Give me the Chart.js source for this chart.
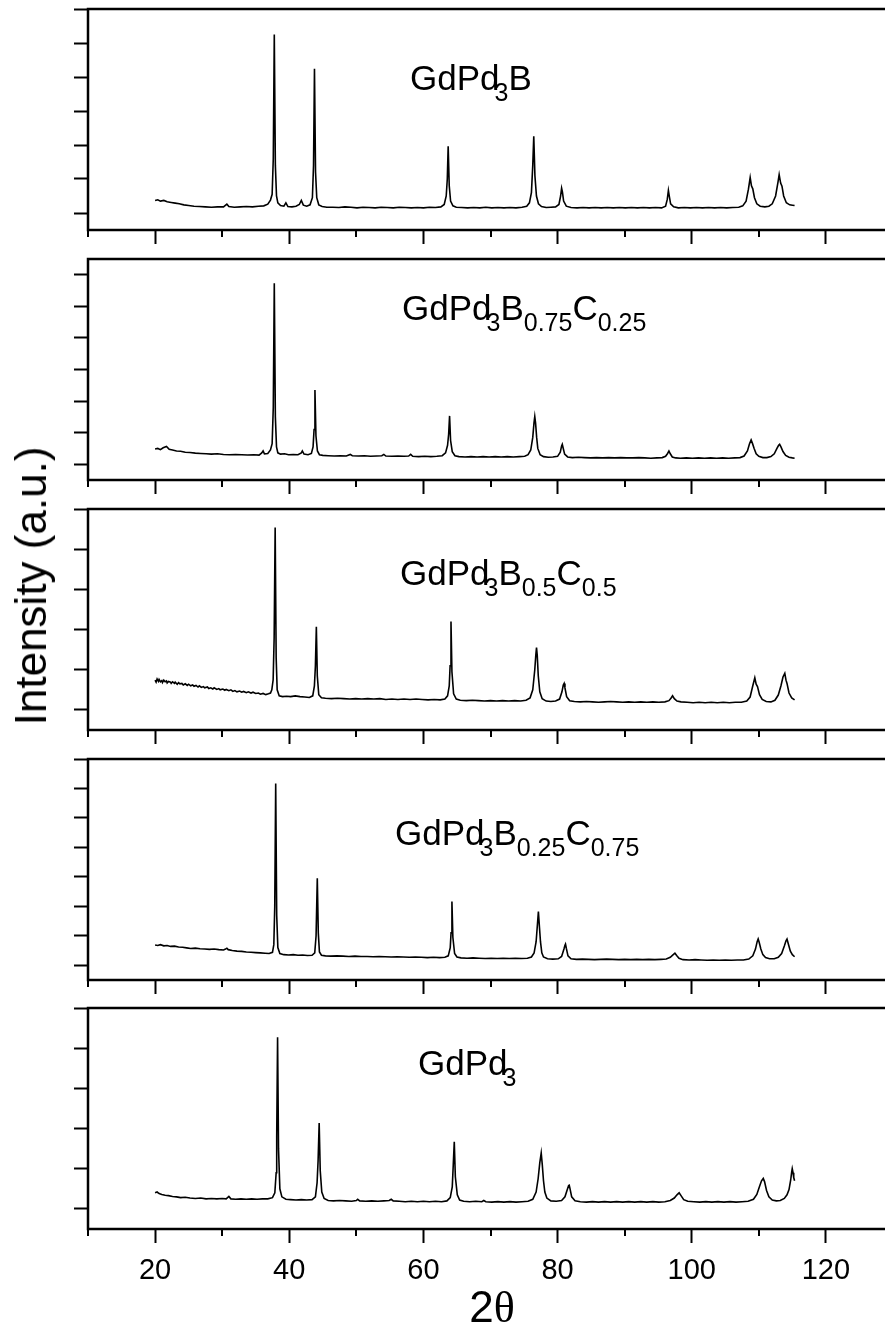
<!DOCTYPE html>
<html lang="en">
  <head>
    <meta charset="UTF-8" />
    <title>XRD patterns - GdPd3 borocarbides</title>
    <script src="https://cdn.jsdelivr.net/npm/chart.js"></script>
    <style>
      html,
      body {
        margin: 0;
        padding: 0;
        width: 885px;
        height: 1325px;
        overflow: hidden;
        background: #fff;
        font-family: "Liberation Sans", Arial, sans-serif;
      }
      canvas {
        position: absolute;
        left: 0;
      }
      .label {
        position: absolute;
        font-size: 35px;
        line-height: 1;
        white-space: nowrap;
        color: #000;
      }
      .label .sub {
        position: relative;
        top: 11px;
        font-size: 25px;
      }
      .label .sub3 {
        margin-left: -5px;
      }
      #ytitle {
        position: absolute;
        left: 31px;
        top: 586px;
        font-size: 44px;
        line-height: 1;
        white-space: nowrap;
        transform: translate(-50%, -50%) rotate(-90deg);
      }
      #xtitle {
        position: absolute;
        left: 492px;
        top: 1285px;
        font-size: 44px;
        line-height: 1;
        white-space: nowrap;
        transform: translateX(-50%);
      }
      #xtitle .theta {
        font-family: "Liberation Serif", "Times New Roman", serif;
      }
    </style>
  </head>
  <body>
    <canvas id="panel1" width="900" height="251" style="top: -1px"></canvas>
    <canvas id="panel2" width="900" height="251" style="top: 249px"></canvas>
    <canvas id="panel3" width="900" height="251" style="top: 499px"></canvas>
    <canvas id="panel4" width="900" height="251" style="top: 749px"></canvas>
    <canvas id="panel5" width="900" height="326" style="top: 998px"></canvas>

    <div class="label" style="left: 410px; top: 60px">
      GdPd<span class="sub sub3">3</span>B
    </div>
    <div class="label" style="left: 402px; top: 290px">
      GdPd<span class="sub sub3">3</span>B<span class="sub">0.75</span>C<span class="sub">0.25</span>
    </div>
    <div class="label" style="left: 400px; top: 555px">
      GdPd<span class="sub sub3">3</span>B<span class="sub">0.5</span>C<span class="sub">0.5</span>
    </div>
    <div class="label" style="left: 395px; top: 815px">
      GdPd<span class="sub sub3">3</span>B<span class="sub">0.25</span>C<span class="sub">0.75</span>
    </div>
    <div class="label" style="left: 418px; top: 1045px">
      GdPd<span class="sub sub3">3</span>
    </div>

    <div id="ytitle">Intensity (a.u.)</div>
    <div id="xtitle">2<span class="theta">θ</span></div>

    <script>
      // 2-theta axis
      var xMajorTicks = [20, 40, 60, 80, 100, 120];
      var xMinorTicks = [10, 30, 50, 70, 90, 110, 130];

      // intensity axis ranges (arbitrary units, one tick per unit)
      var yMaxes = [6, 6.5, 5, 7, 5];

      // [2theta, intensity] for each sample
      var gdpd3b = [
        [20.0,0.37],[20.4,0.39],[20.8,0.35],[21.3,0.37],[21.8,0.33],[22.4,0.31],[23.0,0.29],[23.6,0.27],[24.3,0.24],[25.0,0.22],
        [25.8,0.2],[26.6,0.19],[27.5,0.18],[28.4,0.17],[29.3,0.18],[30.2,0.18],[30.7,0.26],[31.0,0.19],[31.8,0.17],[32.7,0.18],
        [33.6,0.19],[34.5,0.18],[35.4,0.2],[36.2,0.21],[36.8,0.26],[37.2,0.38],[37.45,0.55],[37.62,1.6],[37.77,5.25],[37.93,1.4],
        [38.1,0.5],[38.3,0.3],[38.7,0.22],[39.2,0.2],[39.5,0.3],[39.8,0.19],[40.4,0.18],[41.0,0.2],[41.5,0.25],[41.8,0.37],
        [42.1,0.23],[42.6,0.2],[43.1,0.24],[43.45,0.45],[43.62,1.4],[43.76,4.24],[43.92,1.2],[44.1,0.45],[44.4,0.24],[44.9,0.19],
        [45.6,0.17],[46.5,0.17],[47.4,0.16],[48.3,0.18],[49.2,0.17],[50.1,0.15],[51.0,0.17],[51.9,0.16],[52.8,0.15],[53.7,0.17],
        [54.6,0.16],[55.5,0.15],[56.4,0.17],[57.3,0.16],[58.2,0.15],[59.1,0.16],[60.0,0.15],[60.9,0.17],[61.8,0.16],[62.6,0.18],
        [63.1,0.25],[63.4,0.5],[63.56,1.0],[63.69,1.96],[63.85,0.8],[64.05,0.35],[64.4,0.21],[64.9,0.17],[65.7,0.16],[66.6,0.15],
        [67.5,0.16],[68.4,0.15],[69.3,0.17],[70.2,0.15],[71.1,0.16],[72.0,0.15],[72.9,0.16],[73.8,0.15],[74.7,0.17],[75.4,0.2],
        [75.8,0.3],[76.1,0.6],[76.3,1.4],[76.45,2.26],[76.62,1.1],[76.85,0.5],[77.15,0.27],[77.6,0.19],[78.3,0.16],[79.0,0.17],
        [79.7,0.18],[80.2,0.25],[80.45,0.5],[80.6,0.73],[80.72,0.62],[80.9,0.35],[81.3,0.2],[82.0,0.16],[82.9,0.15],[83.8,0.16],
        [84.7,0.15],[85.6,0.16],[86.5,0.15],[87.4,0.16],[88.3,0.15],[89.2,0.16],[90.1,0.15],[91.0,0.16],[91.9,0.15],[92.8,0.16],
        [93.7,0.15],[94.6,0.16],[95.5,0.15],[96.1,0.2],[96.35,0.4],[96.52,0.665],[96.65,0.5],[96.85,0.27],[97.3,0.18],[98.0,0.15],
        [98.9,0.16],[99.8,0.15],[100.7,0.16],[101.6,0.15],[102.5,0.16],[103.4,0.15],[104.3,0.16],[105.2,0.15],[106.1,0.16],[107.0,0.17],
        [107.6,0.21],[108.1,0.35],[108.45,0.7],[108.71,1.04],[108.9,0.8],[109.1,0.71],[109.35,0.45],[109.7,0.27],[110.2,0.2],[110.9,0.18],
        [111.5,0.2],[112.0,0.27],[112.5,0.5],[112.85,0.9],[113.03,1.13],[113.25,0.88],[113.45,0.79],[113.7,0.5],[114.1,0.3],[114.6,0.24],
        [115.0,0.23],[115.33,0.22]
      ];

      var gdpd3b75c25 = [
        [20.0,0.48],[20.4,0.5],[20.8,0.46],[21.2,0.52],[21.7,0.56],[22.1,0.47],[22.6,0.45],[23.2,0.42],[23.8,0.41],[24.5,0.38],
        [25.2,0.37],[26.0,0.35],[26.8,0.34],[27.6,0.33],[28.4,0.32],[29.3,0.33],[30.2,0.31],[31.1,0.3],[32.0,0.31],[32.9,0.3],
        [33.8,0.29],[34.7,0.3],[35.5,0.29],[35.9,0.36],[36.1,0.42],[36.3,0.33],[36.8,0.34],[37.2,0.45],[37.45,0.65],[37.62,1.8],
        [37.77,5.73],[37.93,1.5],[38.1,0.55],[38.3,0.36],[38.7,0.32],[39.3,0.33],[39.9,0.3],[40.6,0.31],[41.3,0.3],[41.8,0.36],
        [41.95,0.42],[42.2,0.32],[42.8,0.3],[43.3,0.34],[43.55,0.55],[43.7,1.1],[43.83,2.35],[43.98,0.9],[44.2,0.42],[44.5,0.3],
        [45.0,0.28],[45.8,0.27],[46.7,0.26],[47.6,0.27],[48.5,0.26],[49.1,0.31],[49.4,0.27],[50.3,0.26],[51.2,0.27],[52.1,0.25],
        [53.0,0.26],[53.8,0.27],[54.1,0.31],[54.4,0.26],[55.3,0.25],[56.2,0.26],[57.1,0.25],[57.8,0.26],[58.1,0.31],[58.4,0.25],
        [59.3,0.24],[60.2,0.25],[61.1,0.24],[62.0,0.25],[62.8,0.27],[63.3,0.36],[63.6,0.6],[63.76,0.95],[63.9,1.53],[64.05,0.75],
        [64.3,0.4],[64.7,0.27],[65.3,0.24],[66.2,0.23],[67.1,0.24],[68.0,0.23],[68.9,0.24],[69.8,0.23],[70.7,0.24],[71.6,0.23],
        [72.5,0.24],[73.4,0.23],[74.3,0.24],[75.1,0.25],[75.6,0.3],[76.0,0.45],[76.3,0.85],[76.48,1.3],[76.6,1.51],[76.72,1.3],
        [76.88,0.85],[77.05,0.5],[77.4,0.3],[77.9,0.24],[78.6,0.22],[79.3,0.23],[80.0,0.25],[80.4,0.38],[80.6,0.58],[80.7,0.63],
        [80.82,0.52],[81.05,0.32],[81.5,0.23],[82.2,0.21],[83.1,0.22],[84.0,0.21],[84.9,0.2],[85.8,0.21],[86.7,0.2],[87.6,0.21],
        [88.5,0.2],[89.4,0.21],[90.3,0.2],[91.2,0.2],[92.1,0.21],[93.0,0.2],[93.9,0.19],[94.8,0.2],[95.6,0.21],[96.1,0.25],
        [96.4,0.34],[96.6,0.42],[96.8,0.33],[97.1,0.23],[97.6,0.2],[98.3,0.19],[99.2,0.2],[100.1,0.19],[101.0,0.2],[101.9,0.19],
        [102.8,0.2],[103.7,0.19],[104.6,0.2],[105.5,0.19],[106.4,0.2],[107.2,0.21],[107.8,0.26],[108.3,0.42],[108.6,0.64],[108.85,0.77],
        [109.05,0.66],[109.3,0.5],[109.6,0.33],[110.0,0.25],[110.6,0.21],[111.2,0.21],[111.8,0.24],[112.3,0.33],[112.7,0.5],[112.95,0.6],
        [113.1,0.63],[113.3,0.55],[113.6,0.4],[114.0,0.28],[114.5,0.22],[115.0,0.2],[115.33,0.19]
      ];

      var gdpd3b5c5 = [
        [20.0,0.74],[20.15,0.69],[20.3,0.77],[20.5,0.71],[20.6,0.76],[20.8,0.7],[21.0,0.73],[21.1,0.68],[21.3,0.74],[21.5,0.7],
        [21.7,0.72],[21.8,0.67],[22.0,0.71],[22.3,0.69],[22.4,0.66],[22.6,0.7],[22.9,0.66],[23.0,0.69],[23.3,0.64],[23.5,0.68],
        [23.7,0.65],[24.0,0.66],[24.2,0.62],[24.5,0.65],[24.8,0.61],[25.0,0.64],[25.3,0.6],[25.6,0.62],[25.8,0.59],[26.1,0.61],
        [26.4,0.57],[26.6,0.6],[26.9,0.56],[27.2,0.58],[27.4,0.55],[27.8,0.57],[28.0,0.53],[28.3,0.55],[28.6,0.52],[28.8,0.55],
        [29.2,0.51],[29.5,0.53],[29.7,0.5],[30.1,0.52],[30.4,0.49],[30.6,0.51],[31.0,0.48],[31.3,0.5],[31.6,0.46],[31.9,0.48],
        [32.2,0.45],[32.6,0.47],[32.9,0.44],[33.2,0.46],[33.6,0.43],[33.9,0.45],[34.3,0.42],[34.6,0.44],[35.0,0.41],[35.4,0.42],
        [35.7,0.39],[36.1,0.41],[36.5,0.38],[36.9,0.4],[37.2,0.42],[37.4,0.5],[37.6,0.75],[37.75,1.8],[37.9,4.54],[38.05,1.3],
        [38.2,0.5],[38.5,0.35],[39.0,0.33],[39.6,0.34],[40.2,0.33],[40.9,0.35],[41.6,0.33],[42.3,0.32],[43.0,0.31],[43.5,0.35],
        [43.75,0.6],[43.9,1.1],[44.04,2.07],[44.18,0.85],[44.4,0.38],[44.8,0.3],[45.4,0.29],[46.3,0.28],[47.2,0.29],[48.1,0.28],
        [49.0,0.27],[49.9,0.28],[50.8,0.27],[51.7,0.28],[52.6,0.27],[53.5,0.28],[54.4,0.26],[55.3,0.27],[56.2,0.26],[57.1,0.27],
        [58.0,0.26],[58.9,0.27],[59.8,0.26],[60.7,0.25],[61.6,0.26],[62.5,0.25],[63.2,0.27],[63.6,0.35],[63.85,0.6],[63.98,1.1],
        [64.11,2.2],[64.25,0.95],[64.5,0.4],[64.9,0.27],[65.5,0.24],[66.4,0.23],[67.3,0.24],[68.2,0.23],[69.1,0.22],[70.0,0.23],
        [70.9,0.22],[71.8,0.23],[72.7,0.22],[73.6,0.23],[74.5,0.22],[75.3,0.24],[75.9,0.3],[76.3,0.5],[76.6,1.0],[76.75,1.35],
        [76.86,1.55],[76.97,1.35],[77.12,0.85],[77.35,0.45],[77.7,0.28],[78.3,0.22],[79.0,0.21],[79.7,0.22],[80.3,0.27],[80.65,0.45],
        [80.85,0.62],[80.98,0.66],[81.1,0.55],[81.35,0.33],[81.8,0.23],[82.5,0.21],[83.4,0.2],[84.3,0.21],[85.2,0.2],[86.1,0.19],
        [87.0,0.2],[87.9,0.21],[88.8,0.2],[89.7,0.19],[90.6,0.2],[91.5,0.19],[92.4,0.2],[93.3,0.19],[94.2,0.2],[95.1,0.19],
        [96.0,0.2],[96.6,0.23],[96.9,0.29],[97.14,0.35],[97.4,0.28],[97.8,0.22],[98.4,0.2],[99.3,0.19],[100.2,0.18],[101.1,0.19],
        [102.0,0.18],[102.9,0.19],[103.8,0.18],[104.7,0.19],[105.6,0.18],[106.5,0.19],[107.4,0.19],[108.2,0.22],[108.7,0.32],[109.1,0.6],
        [109.4,0.8],[109.6,0.64],[109.8,0.58],[110.1,0.38],[110.5,0.26],[111.1,0.21],[111.8,0.2],[112.4,0.24],[112.9,0.37],[113.3,0.6],
        [113.6,0.82],[113.87,0.91],[114.05,0.74],[114.2,0.66],[114.5,0.42],[114.9,0.3],[115.33,0.25]
      ];

      var gdpd3b25c75 = [
        [20.0,0.69],[20.4,0.67],[20.8,0.7],[21.3,0.66],[21.8,0.67],[22.3,0.64],[22.9,0.65],[23.5,0.62],[24.1,0.61],[24.7,0.59],
        [25.3,0.57],[26.0,0.58],[26.7,0.56],[27.4,0.55],[28.1,0.54],[28.8,0.55],[29.5,0.53],[30.2,0.52],[30.5,0.55],[30.7,0.58],
        [30.9,0.53],[31.5,0.5],[32.2,0.48],[32.9,0.47],[33.6,0.45],[34.3,0.44],[35.0,0.43],[35.7,0.42],[36.4,0.41],[37.0,0.4],
        [37.5,0.44],[37.7,0.7],[37.84,2.0],[37.98,6.17],[38.13,1.7],[38.3,0.6],[38.6,0.4],[39.2,0.36],[39.9,0.35],[40.6,0.36],
        [41.3,0.34],[42.0,0.35],[42.7,0.33],[43.4,0.34],[43.8,0.42],[44.0,1.0],[44.18,2.95],[44.33,1.1],[44.5,0.45],[44.8,0.34],
        [45.4,0.32],[46.2,0.31],[47.1,0.32],[48.0,0.31],[48.9,0.3],[49.8,0.31],[50.7,0.3],[51.6,0.3],[52.5,0.29],[53.4,0.3],
        [54.3,0.29],[55.2,0.28],[56.1,0.29],[57.0,0.28],[57.9,0.27],[58.8,0.28],[59.7,0.27],[60.6,0.26],[61.5,0.27],[62.4,0.26],
        [63.2,0.27],[63.7,0.32],[64.0,0.6],[64.12,1.1],[64.25,2.16],[64.39,0.95],[64.65,0.4],[65.0,0.28],[65.6,0.25],[66.5,0.24],
        [67.4,0.25],[68.3,0.24],[69.2,0.23],[70.1,0.24],[71.0,0.23],[71.9,0.24],[72.8,0.23],[73.7,0.24],[74.6,0.23],[75.5,0.24],
        [76.1,0.28],[76.5,0.42],[76.8,0.8],[77.0,1.4],[77.14,1.82],[77.28,1.35],[77.45,0.8],[77.65,0.42],[77.9,0.28],[78.5,0.22],
        [79.3,0.21],[80.1,0.22],[80.6,0.3],[80.95,0.55],[81.1,0.68],[81.18,0.72],[81.3,0.58],[81.55,0.32],[82.0,0.22],[82.8,0.2],
        [83.7,0.21],[84.6,0.2],[85.5,0.19],[86.4,0.2],[87.3,0.21],[88.2,0.2],[89.1,0.19],[90.0,0.2],[90.9,0.19],[91.8,0.2],
        [92.7,0.19],[93.6,0.2],[94.5,0.19],[95.4,0.2],[96.2,0.21],[96.8,0.27],[97.2,0.35],[97.49,0.41],[97.75,0.33],[98.1,0.24],
        [98.7,0.19],[99.6,0.18],[100.5,0.19],[101.4,0.18],[102.3,0.17],[103.2,0.18],[104.1,0.17],[105.0,0.18],[105.9,0.17],[106.8,0.18],
        [107.7,0.18],[108.5,0.21],[109.1,0.32],[109.5,0.55],[109.75,0.8],[109.9,0.89],[110.05,0.78],[110.3,0.55],[110.6,0.36],[111.0,0.26],
        [111.6,0.22],[112.3,0.22],[112.9,0.27],[113.4,0.4],[113.8,0.65],[114.05,0.83],[114.2,0.89],[114.4,0.72],[114.7,0.48],[115.0,0.36],
        [115.33,0.29]
      ];

      var gdpd3 = [
        [20.0,0.4],[20.3,0.42],[20.6,0.38],[21.0,0.36],[21.5,0.34],[22.0,0.33],[22.6,0.31],[23.2,0.3],[23.8,0.28],[24.5,0.29],
        [25.2,0.27],[26.0,0.26],[26.8,0.27],[27.6,0.25],[28.4,0.26],[29.2,0.25],[30.0,0.26],[30.6,0.25],[31.0,0.31],[31.3,0.25],
        [32.0,0.24],[32.8,0.25],[33.6,0.24],[34.4,0.25],[35.2,0.24],[36.0,0.25],[36.8,0.25],[37.5,0.28],[37.85,0.4],[38.05,0.9],
        [38.13,1.8],[38.26,4.27],[38.4,1.5],[38.6,0.5],[38.9,0.3],[39.5,0.24],[40.2,0.23],[41.0,0.22],[41.8,0.23],[42.6,0.22],
        [43.4,0.23],[43.9,0.3],[44.15,0.65],[44.3,1.2],[44.46,2.14],[44.62,0.95],[44.85,0.42],[45.2,0.26],[45.8,0.21],[46.6,0.2],
        [47.5,0.21],[48.4,0.2],[49.3,0.19],[50.0,0.21],[50.2,0.24],[50.5,0.2],[51.4,0.19],[52.3,0.2],[53.2,0.19],[54.1,0.2],
        [54.9,0.21],[55.2,0.24],[55.5,0.2],[56.4,0.19],[57.3,0.18],[58.2,0.19],[59.1,0.18],[60.0,0.19],[60.9,0.18],[61.8,0.19],
        [62.7,0.18],[63.5,0.2],[64.0,0.28],[64.3,0.55],[64.45,1.1],[64.6,1.67],[64.76,0.8],[65.05,0.35],[65.4,0.22],[66.0,0.19],
        [66.9,0.18],[67.8,0.19],[68.7,0.18],[69.0,0.21],[69.3,0.18],[70.2,0.17],[71.1,0.18],[72.0,0.17],[72.9,0.18],[73.8,0.17],
        [74.7,0.18],[75.6,0.19],[76.3,0.24],[76.8,0.42],[77.1,0.75],[77.35,1.15],[77.56,1.39],[77.72,1.1],[77.9,0.7],[78.1,0.42],
        [78.4,0.27],[79.0,0.2],[79.8,0.19],[80.6,0.21],[81.1,0.3],[81.45,0.48],[81.65,0.58],[81.74,0.59],[81.86,0.5],[82.1,0.3],
        [82.6,0.2],[83.4,0.18],[84.3,0.17],[85.2,0.18],[86.1,0.17],[87.0,0.18],[87.9,0.17],[88.8,0.18],[89.7,0.17],[90.6,0.18],
        [91.5,0.17],[92.4,0.18],[93.3,0.17],[94.2,0.18],[95.1,0.17],[96.0,0.18],[96.8,0.21],[97.4,0.27],[97.8,0.35],[98.12,0.4],
        [98.4,0.33],[98.8,0.23],[99.4,0.19],[100.3,0.18],[101.2,0.17],[102.1,0.18],[103.0,0.17],[103.9,0.18],[104.8,0.17],[105.7,0.18],
        [106.6,0.17],[107.5,0.18],[108.4,0.19],[109.2,0.24],[109.7,0.36],[110.1,0.56],[110.4,0.7],[110.66,0.76],[110.85,0.68],[111.15,0.46],
        [111.5,0.3],[112.0,0.22],[112.6,0.2],[113.2,0.21],[113.8,0.26],[114.2,0.35],[114.5,0.48],[114.75,0.72],[114.9,0.92],[114.98,1.0],
        [115.1,0.9],[115.2,0.78],[115.33,0.7]
      ];

      var panels = [
        { id: "panel1", data: gdpd3b, yMax: yMaxes[0], bottom: 20, labels: false },
        { id: "panel2", data: gdpd3b75c25, yMax: yMaxes[1], bottom: 20, labels: false },
        { id: "panel3", data: gdpd3b5c5, yMax: yMaxes[2], bottom: 20, labels: false },
        { id: "panel4", data: gdpd3b25c75, yMax: yMaxes[3], bottom: 20, labels: false },
        { id: "panel5", data: gdpd3, yMax: yMaxes[4], bottom: 95, labels: true },
      ];

      // box around the plot area plus the short minor ticks on the 2theta axis
      var framePlugin = {
        id: "frame",
        afterDraw: function (chart) {
          var ctx = chart.ctx;
          var a = chart.chartArea;
          var x = chart.scales.x;
          ctx.save();
          ctx.strokeStyle = "#000";
          ctx.lineWidth = 2;
          ctx.beginPath();
          xMinorTicks.forEach(function (v) {
            var px = Math.round(x.getPixelForValue(v));
            ctx.moveTo(px, a.bottom);
            ctx.lineTo(px, a.bottom + 7);
          });
          ctx.stroke();
          ctx.lineWidth = 2.5;
          ctx.strokeRect(a.left, a.top, a.right - a.left, a.bottom - a.top);
          ctx.restore();
        },
      };

      panels.forEach(function (p) {
        var ctx = document.getElementById(p.id).getContext("2d");
        new Chart(ctx, {
          type: "line",
          data: {
            datasets: [
              {
                data: p.data.map(function (d) {
                  return { x: d[0], y: d[1] };
                }),
                borderColor: "#000",
                borderWidth: 1.6,
                pointRadius: 0,
                tension: 0,
                fill: false,
              },
            ],
          },
          options: {
            responsive: false,
            animation: false,
            events: [],
            layout: { padding: { top: 10, right: 7, left: 0, bottom: 0 } },
            plugins: {
              legend: { display: false },
              tooltip: { enabled: false },
            },
            scales: {
              x: {
                type: "linear",
                min: 10,
                max: 130,
                afterBuildTicks: function (scale) {
                  scale.ticks = xMajorTicks.map(function (v) {
                    return { value: v };
                  });
                },
                afterFit: function (scale) {
                  scale.height = p.bottom;
                },
                grid: {
                  drawOnChartArea: false,
                  drawTicks: true,
                  tickLength: 14,
                  tickWidth: 2,
                  tickColor: "#000",
                },
                border: { display: false },
                ticks: {
                  display: p.labels,
                  color: "#000",
                  padding: 11,
                  maxRotation: 0,
                  autoSkip: false,
                  font: { family: "Liberation Sans", size: 29 },
                },
              },
              y: {
                type: "linear",
                min: -0.5,
                max: p.yMax,
                afterBuildTicks: function (scale) {
                  var ticks = [];
                  for (var v = 0; v <= p.yMax; v++) ticks.push({ value: v });
                  scale.ticks = ticks;
                },
                afterFit: function (scale) {
                  scale.width = 88;
                },
                grid: {
                  drawOnChartArea: false,
                  drawTicks: true,
                  tickLength: 14,
                  tickWidth: 2,
                  tickColor: "#000",
                },
                border: { display: false },
                ticks: { display: false },
              },
            },
          },
          plugins: [framePlugin],
        });
      });
    </script>
  </body>
</html>
